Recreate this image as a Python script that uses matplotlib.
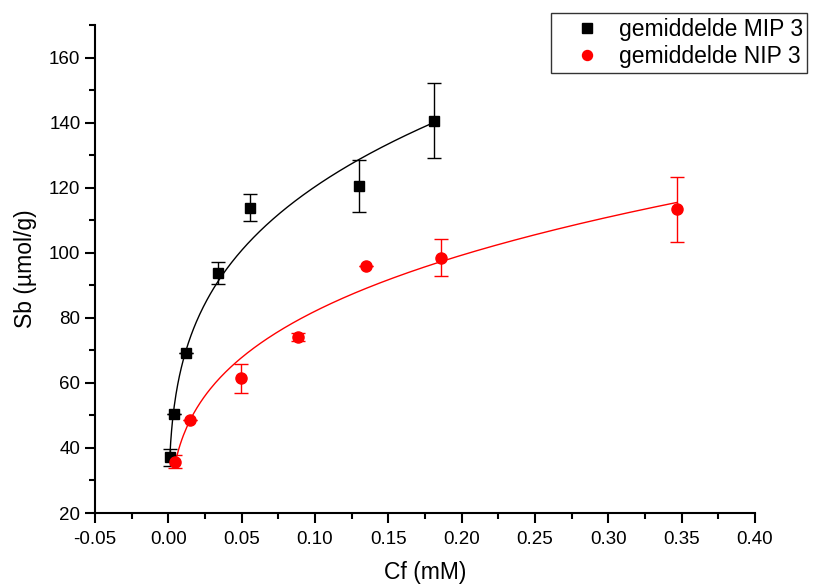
import numpy as np
import matplotlib.pyplot as plt
from matplotlib.ticker import MultipleLocator

plt.rcParams['font.family'] = ['Liberation Sans', 'DejaVu Sans']

# gemiddelde MIP 3
cf_mip = [0.001, 0.004, 0.012, 0.034, 0.056, 0.130, 0.181]
sb_mip = [37.2, 50.5, 69.2, 93.8, 113.9, 120.4, 140.6]
err_mip = [2.6, 0.0, 0.0, 3.5, 4.0, 8.0, 11.5]

# gemiddelde NIP 3
cf_nip = [0.0046, 0.015, 0.0497, 0.0887, 0.135, 0.186, 0.347]
sb_nip = [35.8, 48.7, 61.4, 74.0, 96.0, 98.4, 113.4]
err_nip = [2.0, 0.0, 4.4, 1.2, 0.0, 5.7, 10.0]

# Freundlich fit parameters (Sb = K * Cf^n)
fit_mip = (216.9, 0.256)
fit_nip = (154.5, 0.275)

fig = plt.figure(figsize=(8.17, 5.86), dpi=100)
ax = fig.add_axes([95 / 817, 1 - 513 / 586, 660 / 817, 488 / 586])

for cf, sb, err, (k, n), col, mk, ms, lab in [
    (cf_mip, sb_mip, err_mip, fit_mip, 'black', 's', 7.3, 'gemiddelde MIP 3'),
    (cf_nip, sb_nip, err_nip, fit_nip, 'red', 'o', 8, 'gemiddelde NIP 3'),
]:
    xs = np.linspace(min(cf), max(cf), 300)
    ax.plot(xs, k * xs ** n, color=col, lw=1)
    ax.errorbar(cf, sb, yerr=err, fmt=mk, color=col, ms=ms, elinewidth=1,
                capsize=5, capthick=1, label=lab, zorder=3)

ax.set_xlim(-0.05, 0.40)
ax.set_ylim(20, 170)
ax.xaxis.set_major_locator(MultipleLocator(0.05))
ax.xaxis.set_minor_locator(MultipleLocator(0.025))
ax.yaxis.set_major_locator(MultipleLocator(20))
ax.yaxis.set_minor_locator(MultipleLocator(10))
ax.set_yticks(np.arange(20, 161, 20))
ax.set_xticklabels([f'{v:.2f}' for v in ax.get_xticks()])
ax.spines['top'].set_visible(False)
ax.spines['right'].set_visible(False)
for s in ['left', 'bottom']:
    ax.spines[s].set_linewidth(1.5)
ax.tick_params(which='major', direction='out', length=7, width=1.5, labelsize=13.5)
ax.tick_params(axis='x', which='major', pad=6)
ax.tick_params(which='minor', direction='out', length=4, width=1.5)

ax.set_xlabel('Cf (mM)', fontsize=16.5, labelpad=9)
ax.set_ylabel('Sb (µmol/g)', fontsize=16.5, labelpad=9)

handles, labels = ax.get_legend_handles_labels()
handles = [h[0] for h in handles]
leg = fig.legend(handles, labels, loc='upper left', bbox_to_anchor=(551 / 817, 1 - 13 / 586),
                 fontsize=16.5, frameon=True, fancybox=False, edgecolor='black',
                 borderaxespad=0, handletextpad=0.0, handlelength=2.75, borderpad=0.2,
                 labelspacing=0.2, markerscale=0.9)
leg.get_frame().set_linewidth(1)

fig.savefig('out.png', dpi=100)
